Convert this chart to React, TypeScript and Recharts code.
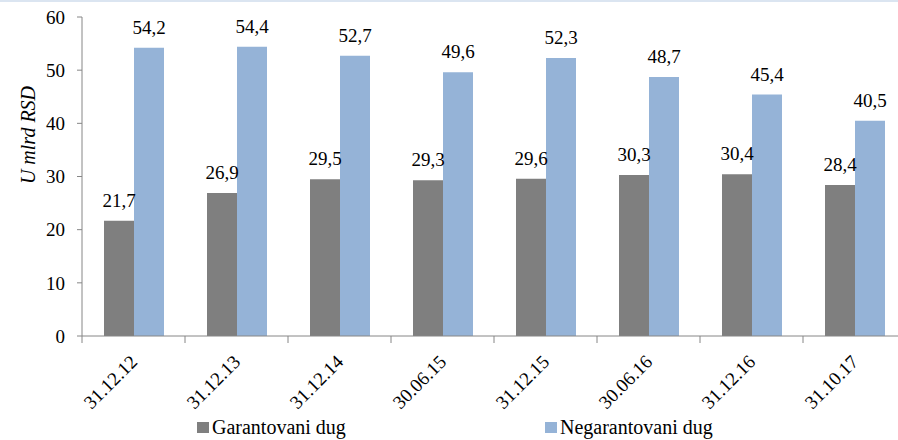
import { BarChart, Bar, XAxis, YAxis, Legend, LabelList } from "recharts";

const dates = [
  "31.12.12",
  "31.12.13",
  "31.12.14",
  "30.06.15",
  "31.12.15",
  "30.06.16",
  "31.12.16",
  "31.10.17",
];
const garantovani = [21.7, 26.9, 29.5, 29.3, 29.6, 30.3, 30.4, 28.4];
const negarantovani = [54.2, 54.4, 52.7, 49.6, 52.3, 48.7, 45.4, 40.5];
const yTicks = [0, 10, 20, 30, 40, 50, 60];

const data = dates.map((date, i) => ({
  date,
  garantovani: garantovani[i],
  negarantovani: negarantovani[i],
}));

const FONT = "Liberation Serif, Times New Roman, Tinos, DejaVu Serif, Noto Serif, serif";
const AXIS = "#868686";
const GREY = "#7f7f7f";
const BLUE = "#95b3d7";
const HALF_BAND = 51.5;

const fmt = (v: any) => Number(v).toFixed(1).replace(".", ",");

const DateTick = ({ x, y, payload, index }: any) => (
  <g>
    <line x1={x - HALF_BAND} y1={y} x2={x - HALF_BAND} y2={y + 7} stroke={AXIS} />
    {index === dates.length - 1 && (
      <line x1={x + HALF_BAND} y1={y} x2={x + HALF_BAND} y2={y + 7} stroke={AXIS} />
    )}
    <text
      x={x + 5}
      y={y + 27}
      transform={`rotate(-45 ${x + 5} ${y + 27})`}
      textAnchor="end"
      style={{ fontFamily: FONT, fontSize: 19 }}
      fill="#000"
    >
      {payload.value}
    </text>
  </g>
);

const YTitle = ({ viewBox }: any) => {
  const cx = viewBox.x + 28;
  const cy = viewBox.y + 118;
  return (
    <text
      x={cx}
      y={cy}
      transform={`rotate(-90 ${cx} ${cy})`}
      textAnchor="middle"
      dominantBaseline="central"
      style={{ fontFamily: FONT, fontSize: 20, fontStyle: "italic" }}
      fill="#000"
    >
      U mlrd RSD
    </text>
  );
};

const LegendBox = () => (
  <div style={{ position: "relative", height: 24, width: 898, fontFamily: FONT, fontSize: 20 }}>
    <div style={{ position: "absolute", left: 197, top: 0, display: "flex", alignItems: "center" }}>
      <span style={{ width: 12, height: 11, background: GREY, marginRight: 3 }} />
      <span>Garantovani dug</span>
    </div>
    <div style={{ position: "absolute", left: 545, top: 0, display: "flex", alignItems: "center" }}>
      <span style={{ width: 12, height: 11, background: BLUE, marginRight: 3 }} />
      <span>Negarantovani dug</span>
    </div>
  </div>
);

const labelStyle = { fontFamily: FONT, fontSize: 19 };

export default function App() {
  return (
    <div style={{ position: "absolute", left: 0, top: 0, width: 898, height: 440, overflow: "hidden", background: "#fff", fontFamily: FONT }}>
      <div style={{ position: "absolute", left: 0, top: 0, width: 898, height: 2, background: "#dbe5f1", zIndex: 2 }} />
      <BarChart
        width={920}
        height={440}
        data={data}
        margin={{ top: 17, right: 14, left: 0, bottom: 0 }}
        barCategoryGap={22}
        barGap={0}
        style={{ fontFamily: FONT }}
      >
        <XAxis
          dataKey="date"
          height={80}
          stroke={AXIS}
          tickLine={false}
          tickSize={0}
          tickMargin={0}
          tick={<DateTick />}
          interval={0}
        />
        <YAxis
          width={82}
          domain={[0, 60]}
          ticks={yTicks}
          stroke={AXIS}
          tickSize={5}
          tickMargin={12}
          tick={{ fill: "#000", style: labelStyle }}
          label={<YTitle />}
        />
        <Legend verticalAlign="bottom" content={<LegendBox />} />
        <Bar dataKey="garantovani" name="Garantovani dug" fill={GREY} isAnimationActive={false}>
          <LabelList
            dataKey="garantovani"
            position="top"
            offset={14}
            formatter={fmt}
            fill="#000"
            style={labelStyle}
          />
        </Bar>
        <Bar dataKey="negarantovani" name="Negarantovani dug" fill={BLUE} isAnimationActive={false}>
          <LabelList
            dataKey="negarantovani"
            position="top"
            offset={14}
            formatter={fmt}
            fill="#000"
            style={labelStyle}
          />
        </Bar>
      </BarChart>
    </div>
  );
}
